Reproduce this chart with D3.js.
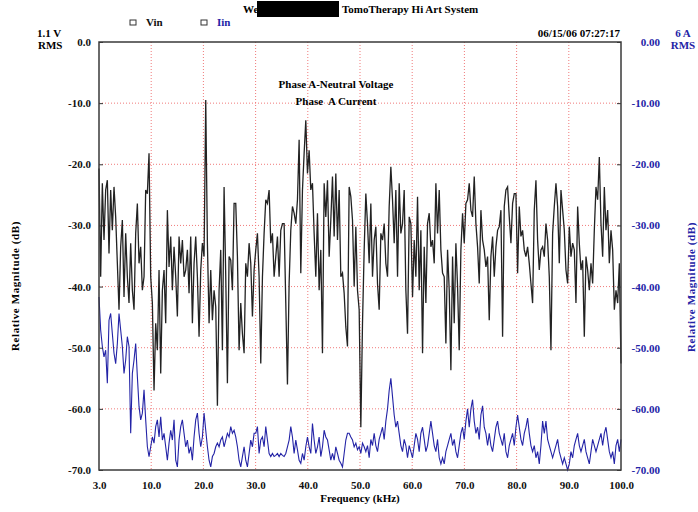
<!DOCTYPE html>
<html>
<head>
<meta charset="utf-8">
<script src="https://cdn.jsdelivr.net/npm/d3@7"></script>
<style>
  body { margin: 0; background: #fff; }
  svg { display: block; }
  text { font-family: "Liberation Serif", "DejaVu Serif", serif; font-weight: bold; font-size: 11px; }
</style>
</head>
<body>
<div id="container"></div>
<script>
/* CONSTANTS */
const width = 698,
    height = 512,
    margin = { top: 42, right: 77, bottom: 42, left: 99 };

const blue = "#2323a6";
const gridColor = "#f07a7a";

/* DATA */
// x ticks: equally spaced bins, first one is labelled 3.0 kHz
const xTicks = [0, 10, 20, 30, 40, 50, 60, 70, 80, 90, 100];
const xTickLabels = ["3.0", "10.0", "20.0", "30.0", "40.0", "50.0", "60.0", "70.0", "80.0", "90.0", "100.0"];
const yTicks = [0, -10, -20, -30, -40, -50, -60, -70];

// Vin, relative magnitude (dB), evenly sampled across the band
const vinDb = [
  -20.7, -38.4, -23.1, -32.4, -24.2, -22.6, -34.6, -24.2, -30.8, -23.7, -28.6, -36.2, -43.8, -33.5, -29.1, -41.7,
  -31.3, -38.4, -42.7, -32.9, -40.6, -43.8, -31.3, -26.4, -36.2, -33.5, -40.6, -38.4, -24.2, -24.8, -18.2, -38.4,
  -42.7, -57.0, -46.0, -50.4, -37.3, -54.2, -40.6, -37.3, -46.0, -27.5, -36.8, -31.8, -40.6, -33.5, -38.4, -44.9,
  -31.8, -36.2, -32.4, -38.4, -37.3, -34.0, -41.1, -31.8, -46.0, -36.2, -31.8, -38.4, -48.2,
  // 20 - 40 kHz
  -37.3, -32.9, -35.1, -9.5, -32.9, -46.0, -37.3, -45.5, -40.6, -43.3, -59.5, -40.6, -34.0, -50.4, -23.7, -38.4,
  -55.8, -35.1, -35.7, -40.6, -26.4, -26.4, -35.1, -50.4, -42.7, -47.7, -50.9, -36.2, -38.4, -32.9, -36.2, -44.9,
  -37.3, -34.0, -31.3, -38.4, -52.6, -38.4, -31.3, -25.8, -26.4, -24.2, -32.9, -31.3, -38.4, -35.1, -31.8, -38.4,
  -30.8, -29.7, -29.7, -42.7, -56.0, -39.5, -30.8, -26.9, -28.0, -29.7, -25.8, -16.0, -37.8, -24.2, -18.2,
  // 40 - 60 kHz
  -12.8, -21.5, -17.7, -24.2, -23.1, -31.3, -38.4, -28.0, -40.6, -34.0, -50.9, -23.1, -28.6, -22.6, -35.1, -29.1,
  -22.0, -31.8, -21.5, -32.4, -24.2, -38.4, -37.8, -41.1, -46.6, -49.8, -23.7, -25.3, -29.1, -40.0, -30.2, -40.6,
  -43.8, -63.0, -46.0, -34.0, -24.8, -29.7, -36.2, -26.4, -38.4, -32.4, -30.2, -39.5, -43.8, -31.3, -32.4, -29.7,
  -36.2, -38.4, -26.9, -20.4, -25.8, -32.9, -24.2, -38.4, -23.1, -31.3, -29.7, -24.2, -40.6, -47.7, -28.6,
  // 60 - 80 kHz
  -29.7, -41.7, -32.4, -38.4, -25.3, -40.6, -30.8, -50.9, -33.5, -42.7, -29.7, -28.0, -33.5, -32.4, -36.2, -23.1,
  -31.3, -24.2, -34.0, -37.8, -38.4, -49.3, -34.0, -40.6, -53.7, -35.1, -46.0, -32.9, -40.0, -50.4, -34.0, -28.0,
  -32.9, -26.4, -25.8, -23.1, -27.5, -28.6, -22.0, -29.7, -33.5, -39.5, -27.5, -32.4, -34.0, -36.8, -35.1, -45.5,
  -35.1, -31.8, -38.4, -33.5, -30.8, -30.2, -27.5, -48.2, -26.9, -24.2, -23.7, -28.6, -32.9, -26.4, -24.8,
  // 80 - 100 kHz
  -24.8, -37.8, -26.9, -31.8, -30.8, -34.0, -35.1, -33.5, -36.2, -39.5, -42.7, -27.5, -22.6, -32.4, -37.3, -34.0,
  -33.5, -35.1, -29.7, -32.4, -38.4, -50.4, -31.3, -26.9, -23.1, -26.9, -36.2, -24.2, -27.5, -30.8, -37.3, -39.5,
  -30.2, -35.1, -32.9, -34.0, -42.7, -26.9, -32.9, -37.3, -35.7, -48.2, -35.1, -37.3, -40.6, -36.2, -39.5, -30.8,
  -23.7, -25.8, -18.8, -29.7, -35.1, -23.7, -30.8, -27.5, -36.2, -30.8, -34.0, -43.8, -40.6, -42.7, -36.2, -52.6
];

// Iin, relative magnitude (dB), evenly sampled across the band
const iinDb = [
  -41.7, -47.1, -49.8, -51.5, -50.4, -55.8, -45.5, -44.4, -47.7, -50.9, -52.6, -49.3, -44.4, -47.1, -49.8, -54.2,
  -52.0, -48.2, -49.8, -64.0, -54.2, -52.0, -49.3, -54.7, -59.6, -61.8, -60.7, -56.9, -61.8, -66.2, -67.8, -66.2,
  -64.6, -65.6, -62.9, -61.8, -64.6, -61.3, -65.1, -64.0, -66.2, -68.4, -65.6, -63.5, -65.1, -61.8, -68.4, -69.5,
  -65.1, -62.9, -61.8, -64.0, -66.2, -65.1, -67.3, -66.2, -68.4, -64.6, -61.8, -60.7, -64.0, -66.2, -64.6, -60.7,
  -63.5, -66.2, -68.4, -69.5, -67.8, -67.3, -66.2, -65.6, -66.2, -65.1, -64.6, -66.2, -65.1, -64.0, -64.6, -62.9,
  -64.0, -63.5, -64.6, -66.2, -68.4, -69.5, -67.8, -66.2, -68.4, -69.5, -67.3, -65.1, -66.2, -64.0, -64.0, -62.9,
  -67.3, -65.1, -64.6, -66.2, -62.9, -65.1, -67.3, -67.8, -67.3, -67.8, -67.6, -67.3, -67.8, -67.3, -67.6, -67.8,
  -67.3, -66.2, -65.1, -62.9, -64.6, -67.3, -65.1, -66.7, -68.4, -68.9, -67.3, -68.4, -66.2, -64.6, -66.2, -67.3,
  -62.4, -65.1, -67.3, -66.2, -64.6, -67.8, -66.2, -63.5, -64.6, -65.1, -66.7, -68.4, -67.3, -68.4, -66.2, -67.3,
  -68.4, -68.9, -69.5, -67.3, -65.1, -64.0, -64.0, -64.6, -65.1, -66.2, -65.6, -66.7, -66.2, -67.3, -65.6, -66.2,
  // 52 kHz onwards
  -67, -66, -68, -65, -66, -64, -66, -67, -65, -64, -63, -65, -62, -60, -57, -55, -58, -61, -63, -62, -64,
  -66, -67, -65, -66, -68, -66, -67, -68, -66, -64, -65, -67, -64, -63, -65, -67, -66, -64, -62, -64, -66,
  -67, -65, -68, -69, -68, -69, -67, -66, -65, -64, -66, -65, -67, -68, -66, -64, -63, -65, -62, -60, -63,
  -60, -58.5, -62, -64, -63, -65, -61, -59.5, -63, -64, -66, -64, -66, -67, -65, -63, -62, -64, -65, -66, -64,
  -67, -68, -66, -65, -64, -66, -63, -61, -63, -65, -66, -64, -63, -61.5, -64, -66, -67, -66, -68, -67, -69,
  -66, -62, -64, -62, -65, -66, -67, -68, -67, -66, -65, -67, -68, -69, -68, -69, -70, -69, -67, -68, -66,
  -65, -64, -66, -67, -66, -65, -67, -68, -69, -67, -65, -66, -67, -66, -65, -64, -66, -64, -63, -65, -67,
  -68, -67, -69, -66, -65, -67, -65
];

/* SVG */
const svg = d3.select("#container")
    .append("svg")
    .attr("width", width)
    .attr("height", height);

/* SCALES */
const xScale = d3.scaleLinear()
    .domain([0, 100])
    .range([margin.left, width - margin.right]);

const yScale = d3.scaleLinear()
    .domain([-70, 0])
    .range([height - margin.bottom, margin.top]);

// samples are spread evenly across the band
const pos = (arr) => arr.map((d, i) => [i * 100 / (arr.length - 1), d]);

/* GRID */
svg.append("g")
    .selectAll("line.hgrid")
    .data(yTicks.filter(d => d > -70 && d < 0))
    .join("line")
    .attr("class", "hgrid")
    .attr("x1", xScale(0))
    .attr("x2", xScale(100))
    .attr("y1", d => yScale(d))
    .attr("y2", d => yScale(d))
    .attr("stroke", gridColor)
    .attr("stroke-dasharray", "1,2");

svg.append("g")
    .selectAll("line.vgrid")
    .data(xTicks.filter(d => d > 0 && d < 100))
    .join("line")
    .attr("class", "vgrid")
    .attr("x1", d => xScale(d))
    .attr("x2", d => xScale(d))
    .attr("y1", yScale(0))
    .attr("y2", yScale(-70))
    .attr("stroke", gridColor)
    .attr("stroke-dasharray", "1,2");

/* LINES */
const lineGen = d3.line()
    .x(d => xScale(d[0]))
    .y(d => yScale(d[1]));

svg.append("path")
    .attr("class", "vin")
    .attr("d", lineGen(pos(vinDb)))
    .attr("fill", "none")
    .attr("stroke", "#222")
    .attr("stroke-width", 1.3);

svg.append("path")
    .attr("class", "iin")
    .attr("d", lineGen(pos(iinDb)))
    .attr("fill", "none")
    .attr("stroke", blue)
    .attr("stroke-width", 1.1);

/* AXES */
const xAxis = d3.axisBottom(xScale)
    .tickValues(xTicks)
    .tickFormat((d, i) => xTickLabels[i])
    .tickSize(0)
    .tickPadding(11);

const yAxis = d3.axisLeft(yScale)
    .tickValues(yTicks)
    .tickFormat(d => d.toFixed(1))
    .tickSize(-4)
    .tickPadding(8);

const yAxisRight = d3.axisRight(yScale)
    .tickValues(yTicks)
    .tickFormat(d => d.toFixed(2))
    .tickSize(-4)
    .tickPadding(39);

svg.append("g")
    .attr("class", "x-axis")
    .attr("transform", `translate(0,${height - margin.bottom})`)
    .call(xAxis);

svg.append("g")
    .attr("class", "y-axis")
    .attr("transform", `translate(${margin.left},0)`)
    .call(yAxis);

svg.append("g")
    .attr("class", "y-axis-right")
    .attr("transform", `translate(${width - margin.right},0)`)
    .call(yAxisRight);

svg.selectAll(".x-axis text, .y-axis text, .y-axis-right text")
    .attr("font-family", null)
    .attr("font-size", null)
    .attr("fill", "#111");
svg.selectAll(".y-axis-right text")
    .attr("text-anchor", "end")
    .attr("fill", blue);
svg.selectAll(".tick line").attr("stroke", "#333");
svg.selectAll(".domain").remove();

// plot frame
svg.append("rect")
    .attr("x", xScale(0))
    .attr("y", yScale(0))
    .attr("width", xScale(100) - xScale(0))
    .attr("height", yScale(-70) - yScale(0))
    .attr("fill", "none")
    .attr("stroke", "#3a3a3a")
    .attr("stroke-width", 1.5);

/* TEXTS */
// title with the redacted block
svg.append("text").attr("x", 243).attr("y", 13).text("We");
svg.append("rect")
    .attr("x", 257).attr("y", 1)
    .attr("width", 82).attr("height", 16)
    .attr("fill", "#000");
svg.append("text").attr("x", 342).attr("y", 13).text("TomoTherapy Hi Art System");

// legend
const legend = [
  { label: "Vin", x: 130, color: "#111" },
  { label: "Iin", x: 201, color: blue }
];
const lg = svg.append("g").selectAll("g")
    .data(legend)
    .join("g")
    .attr("transform", d => `translate(${d.x},20)`);
lg.append("rect")
    .attr("width", 6).attr("height", 5)
    .attr("fill", "none")
    .attr("stroke", "#333");
lg.append("text")
    .attr("x", 16).attr("y", 6)
    .attr("fill", d => d.color)
    .text(d => d.label);

// units and timestamp
svg.append("text").attr("x", 37).attr("y", 37).text("1.1 V");
svg.append("text").attr("x", 38).attr("y", 49).text("RMS");
svg.append("text").attr("x", 620).attr("y", 37).attr("text-anchor", "end").text("06/15/06 07:27:17");
svg.append("text").attr("x", 683).attr("y", 37).attr("text-anchor", "middle").attr("fill", blue).text("6 A");
svg.append("text").attr("x", 683).attr("y", 49).attr("text-anchor", "middle").attr("fill", blue).text("RMS");

// inner annotations
svg.append("text").attr("x", 336).attr("y", 88).attr("text-anchor", "middle").text("Phase A-Neutral Voltage");
svg.append("text").attr("x", 336).attr("y", 105).attr("text-anchor", "middle").attr("xml:space", "preserve").text("Phase  A Current");

// axis titles
svg.append("text")
    .attr("x", 360).attr("y", 502)
    .attr("text-anchor", "middle")
    .text("Frequency (kHz)");
svg.append("text")
    .attr("transform", "translate(19,286) rotate(-90)")
    .attr("text-anchor", "middle")
    .attr("letter-spacing", 0.6)
    .text("Relative Magnitude (dB)");
svg.append("text")
    .attr("transform", "translate(695,287) rotate(-90)")
    .attr("text-anchor", "middle")
    .attr("letter-spacing", 0.6)
    .attr("fill", blue)
    .text("Relative Magnitude (dB)");
</script>
</body>
</html>
